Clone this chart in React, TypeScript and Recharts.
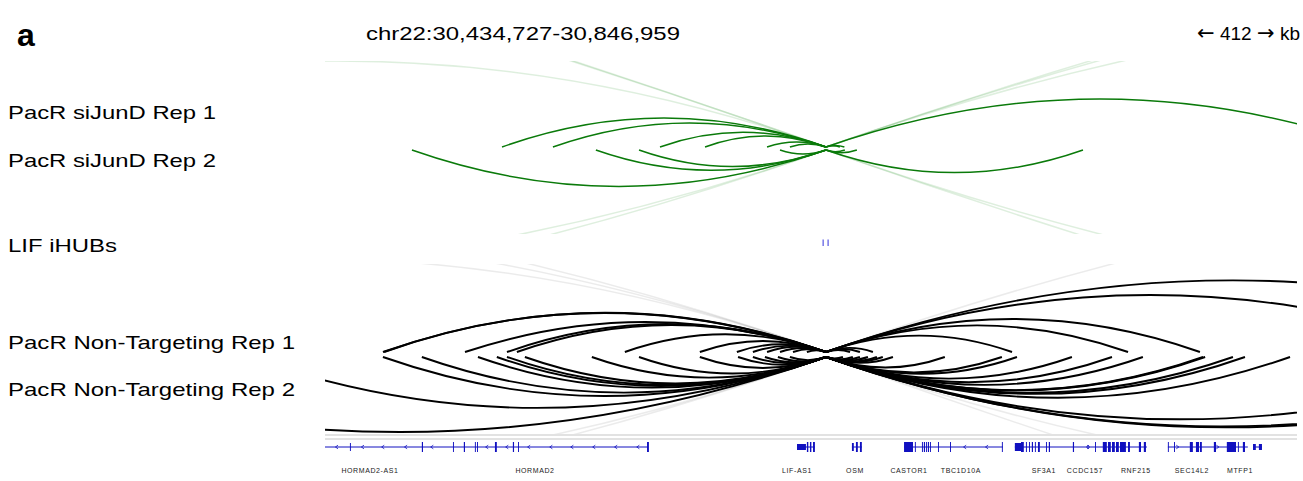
import React from 'react';
import { LineChart, ComposedChart, Line, Scatter, XAxis, YAxis, ReferenceArea, ReferenceLine } from 'recharts';

// genomic window (kb)
const viewStart = 30434.727;
const viewEnd = 30846.959;
const lifAnchor = 30647.2;

// arcs: [other end (kb), arc height]
const siJunDRep1Arcs = [
  [30509.8, 29], [30531.4, 24], [30576.8, 14.7], [30595.9, 11], [30622.2, 5], [30631.9, 3],
  [30879.6, 48], [30653.1, 1.2], [30655.0, 1.5],
];
const siJunDRep1Faint = [[30232.4, 86], [27254.7, 704], [28000.0, 549], [32154.0, 312.7], [31358.8, 147.7], [31800.0, 239]];
const siJunDRep2Arcs = [
  [30471.6, 36.4], [30549.6, 20.2], [30567.9, 16.5], [30627.7, 4], [30756.2, 22.6], [30660.3, 2.7], [30655.2, 1.7],
];
const siJunDRep2Faint = [[30043.3, 125], [29728.2, 190.7], [32810.1, 448.8], [31550.5, 187.4]];

const ntRep1Arcs = [
  [30459.3, 39], [30459.8, 39.2], [30494.1, 30], [30511.9, 28], [30516.1, 27], [30561.9, 17.7], [30593.7, 11],
  [30609.4, 7.8], [30616.2, 6.4], [30622.2, 5.2], [30627.7, 4], [30633.2, 2.9], [30639.1, 1.7],
  [30992.4, 71.6], [30922.0, 57], [30805.8, 33], [30775.3, 26.6], [30726.1, 16.4], [30667.1, 4.1], [30661.6, 3], [30657.4, 2],
];
const ntRep1Faint = [[30192.1, 94.4], [30054.3, 123], [29839.7, 167.6], [31609.9, 199.8]];
const ntRep2Arcs = [
  [30459.3, 39], [30475.8, 35.6], [30499.6, 30.6], [30507.6, 29], [30511.9, 28], [30519.5, 26.5], [30547.9, 20.6],
  [30567.9, 16.5], [30593.7, 11], [30609.9, 7.7], [30616.2, 6.4], [30621.3, 5.3], [30626.8, 4.2], [30631.9, 3.1],
  [30402.0, 50.9], [30285.8, 75],
  [30675.6, 5.9], [30697.6, 10.5], [30721.8, 15.5], [30728.2, 16.8], [30751.5, 21.6], [30768.5, 25.2], [30781.6, 27.9],
  [30807.1, 33.2], [30808.0, 33.4], [30819.8, 35.8], [30824.9, 36.9], [30844.0, 40.8],
  [30654.4, 1.5], [30658.6, 2.4], [30661.6, 3.1], [30665.0, 3.7], [30668.8, 4.5], [30671.3, 5.0],
  [30947.4, 62.3], [30982.2, 69.5], [30986.5, 70.4],
];
const ntRep2Faint = [[30032.2, 127.6], [29788.8, 178], [34659.2, 832], [31277.4, 130.8]];

// iHUBs [start, end]
const lifIHubs = [[30645.7, 30646.3], [30647.8, 30648.4]];

// gene models
const geneLines = [
  [30434.7, 30571.7], [30634.9, 30642.5], [30658.2, 30662.4], [30680.3, 30722.2],
  [30727.3, 30783.3], [30792.2, 30826.1], [30828.3, 30832.1],
];
// [start, end, half-height]
const exons = [
  [30445.3, 30445.7, 4], [30475.8, 30476.3, 5], [30489.0, 30489.4, 5], [30493.6, 30494.1, 5],
  [30498.3, 30498.7, 5], [30499.2, 30499.6, 5], [30506.8, 30507.6, 5], [30514.4, 30514.9, 5],
  [30516.6, 30517.0, 5], [30571.3, 30572.1, 5],
  [30634.9, 30638.7, 3], [30639.1, 30639.7, 5], [30640.4, 30641.0, 5], [30641.7, 30642.5, 5],
  [30658.2, 30659.0, 4], [30659.9, 30660.7, 5], [30661.6, 30662.4, 5],
  [30680.3, 30684.1, 5], [30684.9, 30685.3, 5], [30687.9, 30688.3, 5], [30688.7, 30689.2, 5],
  [30689.6, 30690.0, 5], [30690.4, 30690.9, 5], [30691.3, 30691.7, 5],
  [30694.7, 30695.1, 5], [30699.8, 30700.2, 5], [30721.8, 30722.2, 5],
  [30727.3, 30729.9, 4], [30729.9, 30731.1, 5], [30732.0, 30732.4, 5], [30733.3, 30733.7, 5],
  [30734.5, 30735.0, 5], [30735.8, 30736.2, 5], [30737.1, 30737.9, 5], [30740.5, 30740.9, 5], [30741.7, 30742.2, 5],
  [30751.9, 30752.4, 5], [30761.3, 30761.7, 5],
  [30764.6, 30766.3, 5], [30766.8, 30768.0, 5], [30768.5, 30769.7, 5], [30770.2, 30771.4, 5], [30771.9, 30774.4, 5],
  [30775.3, 30776.1, 5], [30779.9, 30780.8, 5], [30782.0, 30782.9, 5],
  [30792.2, 30792.6, 5], [30794.8, 30795.2, 5], [30801.5, 30802.8, 5], [30804.1, 30805.4, 5], [30805.8, 30806.6, 5],
  [30811.7, 30812.6, 5], [30817.2, 30821.1, 5], [30821.9, 30822.3, 5], [30824.0, 30824.9, 5],
  [30828.3, 30829.5, 3], [30830.8, 30832.1, 3],
];
// strand chevrons on introns
const minusStrandMarks = [30439.7, 30450.7, 30459.3, 30469.0, 30480.1, 30503.4, 30511.9, 30521.2, 30530.6, 30539.5, 30548.8, 30558.1, 30567.5, 30706.1, 30715.4, 30758.2];
const plusStrandMarks = [30758.5, 30796.3, 30813.3];
const geneLabelPos = [30453.8, 30523.8, 30634.9, 30659.5, 30682.4, 30704.4, 30739.6, 30757.0, 30778.6, 30802.4, 30822.8];
const geneNames = ['HORMAD2-AS1', 'HORMAD2', 'LIF-AS1', 'OSM', 'CASTOR1', 'TBC1D10A', 'SF3A1', 'CCDC157', 'RNF215', 'SEC14L2', 'MTFP1'];

const trackLabels = [
  { text: 'PacR siJunD Rep 1', y: 119, w: 208 },
  { text: 'PacR siJunD Rep 2', y: 167, w: 208 },
  { text: 'LIF iHUBs', y: 252, w: 109 },
  { text: 'PacR Non-Targeting Rep 1', y: 349, w: 287 },
  { text: 'PacR Non-Targeting Rep 2', y: 396, w: 287 },
];

const PLOT_LEFT = 325;
const PLOT_W = 972;
const FONT = "'Liberation Sans', Arial, sans-serif";
const GENE = '#1010c0';

// quadratic arc through the three points (end, apex, end)
const arcCurve = (context: any) => {
  let pts: number[][] = [];
  return {
    areaStart() {},
    areaEnd() {},
    lineStart() { pts = []; },
    lineEnd() {
      if (pts.length === 3) {
        const [a, b, c] = pts;
        const cx = 2 * b[0] - (a[0] + c[0]) / 2;
        const cy = 2 * b[1] - (a[1] + c[1]) / 2;
        context.moveTo(a[0], a[1]);
        context.quadraticCurveTo(cx, cy, c[0], c[1]);
      } else if (pts.length) {
        context.moveTo(pts[0][0], pts[0][1]);
        for (let i = 1; i < pts.length; i++) context.lineTo(pts[i][0], pts[i][1]);
      }
    },
    point(x: number, y: number) { pts.push([x, y]); },
  };
};

const arcData = (end: number, h: number) => {
  const a = Math.min(end, lifAnchor);
  const b = Math.max(end, lifAnchor);
  return [{ x: a, y: 0 }, { x: (a + b) / 2, y: h }, { x: b, y: 0 }];
};

function ArcTrack({ top, height, max, down, arcs, faint, color, faintColor, sw }: any) {
  return (
    <div style={{ position: 'absolute', left: PLOT_LEFT, top }}>
      <LineChart width={PLOT_W} height={height} margin={{ top: 0, right: 0, bottom: 0, left: 0 }}>
        <XAxis type="number" dataKey="x" domain={[viewStart, viewEnd]} allowDataOverflow hide />
        <YAxis type="number" domain={[-3, max]} allowDataOverflow hide reversed={down} />
        {faint.map((d: number[], i: number) => (
          <Line key={'f' + i} data={arcData(d[0], d[1])} dataKey="y" type={arcCurve as any} stroke={faintColor}
            strokeWidth={1.5} dot={false} activeDot={false} isAnimationActive={false} />
        ))}
        {arcs.map((d: number[], i: number) => (
          <Line key={'a' + i} data={arcData(d[0], d[1])} dataKey="y" type={arcCurve as any} stroke={color}
            strokeWidth={sw} dot={false} activeDot={false} isAnimationActive={false} />
        ))}
      </LineChart>
    </div>
  );
}

const chevron = (dir: number) => (props: any) => {
  const { cx, cy } = props;
  if (cx == null || cy == null) return <g />;
  const d = `M${cx + 1.3 * dir},${cy - 1.8} L${cx - 1.3 * dir},${cy} L${cx + 1.3 * dir},${cy + 1.8}`;
  return <path d={d} stroke={GENE} strokeWidth={0.8} fill="none" />;
};

export default function App() {
  const green = '#0a7a0a';
  return (
    <div style={{ position: 'absolute', left: 0, top: 0, width: 1303, height: 481, background: '#fff', overflow: 'hidden' }}>
      <svg width={1303} height={481} style={{ position: 'absolute', left: 0, top: 0 }}>
        <text x={17} y={46} fontFamily={FONT} fontWeight="bold" fontSize={32}>a</text>
        <text x={366} y={40} fontFamily={FONT} fontSize={19} textLength={314} lengthAdjust="spacingAndGlyphs">chr22:30,434,727-30,846,959</text>
        <text x={1197} y={40} fontFamily={FONT} fontSize={19} textLength={103} lengthAdjust="spacing">
          <tspan fontFamily="'DejaVu Sans', sans-serif" fontSize={21}>{'\u2190'}</tspan>
          <tspan>{' 412 '}</tspan>
          <tspan fontFamily="'DejaVu Sans', sans-serif" fontSize={21}>{'\u2192'}</tspan>
          <tspan>{' kb'}</tspan>
        </text>
        {trackLabels.map((t) => (
          <text key={t.text} x={8} y={t.y} fontFamily={FONT} fontSize={19} textLength={t.w} lengthAdjust="spacingAndGlyphs">{t.text}</text>
        ))}
      </svg>
      <ArcTrack top={61} height={89} max={86} down={false} arcs={siJunDRep1Arcs} faint={siJunDRep1Faint}
        color={green} faintColor="rgba(0,128,0,0.13)" sw={1.5} />
      <ArcTrack top={147} height={87} max={84} down={true} arcs={siJunDRep2Arcs} faint={siJunDRep2Faint}
        color={green} faintColor="rgba(0,128,0,0.13)" sw={1.5} />
      <div style={{ position: 'absolute', left: PLOT_LEFT, top: 238 }}>
        <LineChart width={PLOT_W} height={10} margin={{ top: 0, right: 0, bottom: 0, left: 0 }}>
          <XAxis type="number" dataKey="x" domain={[viewStart, viewEnd]} allowDataOverflow hide />
          <YAxis type="number" domain={[0, 1]} hide />
          <Line data={[{ x: viewStart, y: 0 }, { x: viewEnd, y: 0 }]} dataKey="y" stroke="none" dot={false}
            activeDot={false} isAnimationActive={false} />
          {lifIHubs.map((d, i) => (
            <ReferenceArea key={i} x1={d[0]} x2={d[1]} y1={0.2} y2={0.85} fill="#6f6fe6" fillOpacity={1} stroke="none" />
          ))}
        </LineChart>
      </div>
      <ArcTrack top={264} height={91} max={88} down={false} arcs={ntRep1Arcs} faint={ntRep1Faint}
        color="#000" faintColor="rgba(0,0,0,0.08)" sw={1.9} />
      <ArcTrack top={354} height={81} max={78} down={true} arcs={ntRep2Arcs} faint={ntRep2Faint}
        color="#000" faintColor="rgba(0,0,0,0.08)" sw={1.9} />
      <div style={{ position: 'absolute', left: PLOT_LEFT, top: 430 }}>
        <ComposedChart width={PLOT_W} height={48} margin={{ top: 0, right: 0, bottom: 0, left: 0 }}>
          <XAxis type="number" dataKey="x" domain={[viewStart, viewEnd]} allowDataOverflow ticks={geneLabelPos}
            interval={0} tickFormatter={(v: number) => geneNames[geneLabelPos.indexOf(v)] ?? ''}
            axisLine={false} tickLine={false} tickSize={0} tickMargin={4} height={14}
            tick={{ fontSize: 7, fill: '#222', fontFamily: FONT, letterSpacing: 0.6 }} />
          <YAxis type="number" dataKey="y" domain={[-17, 17]} hide />
          <ReferenceLine y={12} stroke="#e2e2e2" strokeWidth={2} />
          <ReferenceLine y={8} stroke="#e2e2e2" strokeWidth={2} />
          {geneLines.map((d, i) => (
            <Line key={'g' + i} data={[{ x: d[0], y: 0 }, { x: d[1], y: 0 }]} dataKey="y" stroke={GENE}
              strokeWidth={1} dot={false} activeDot={false} isAnimationActive={false} />
          ))}
          <Scatter data={minusStrandMarks.map((x) => ({ x, y: 0 }))} dataKey="y" shape={chevron(1)} isAnimationActive={false} />
          <Scatter data={plusStrandMarks.map((x) => ({ x, y: 0 }))} dataKey="y" shape={chevron(-1)} isAnimationActive={false} />
          {exons.map((d, i) => (
            <ReferenceArea key={'e' + i} x1={d[0]} x2={d[1]} y1={-d[2]} y2={d[2]} fill={GENE} fillOpacity={1} stroke="none" />
          ))}
        </ComposedChart>
      </div>
    </div>
  );
}
